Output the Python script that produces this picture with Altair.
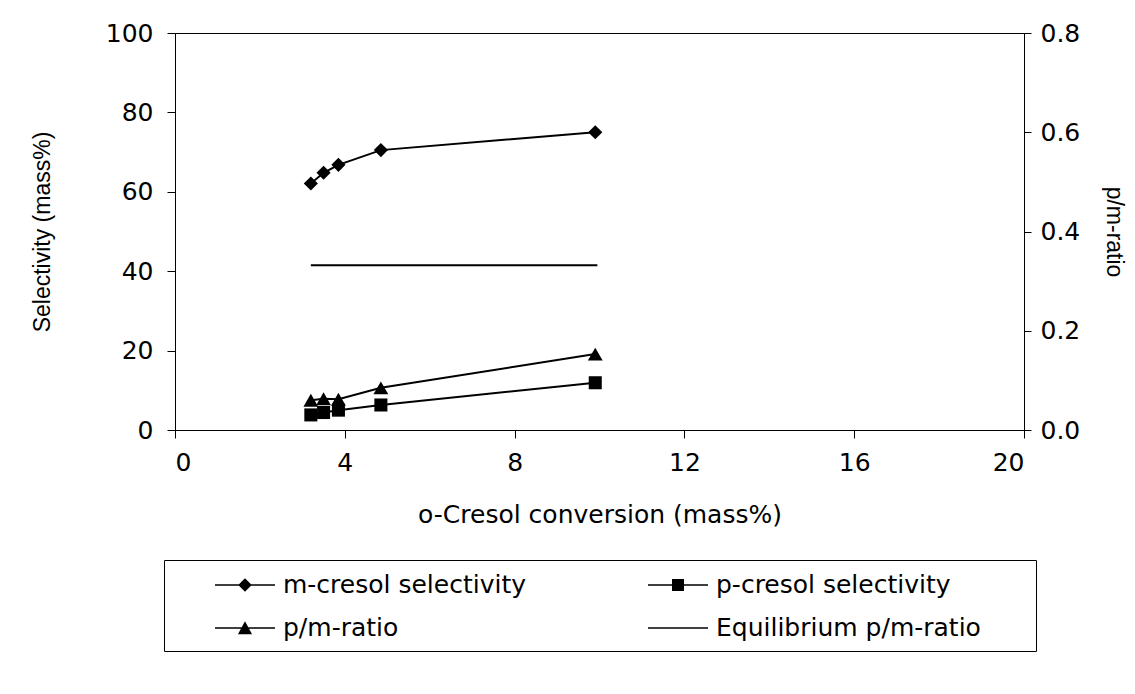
import altair as alt
import pandas as pd

# ---- data ----
conversion = [3.2, 3.5, 3.85, 4.85, 9.9]
m_cresol = [62.1, 64.8, 66.8, 70.5, 75.0]
p_cresol = [3.8, 4.4, 5.0, 6.3, 11.9]
pm_ratio = [0.060, 0.063, 0.062, 0.085, 0.153]
eq_conversion = [3.2, 9.95]
eq_ratio = [0.332, 0.332]
series = ["m-cresol selectivity", "p-cresol selectivity", "p/m-ratio", "Equilibrium p/m-ratio"]
# legend lays entries out column by column
legend_order = [series[0], series[2], series[1], series[3]]
x_ticks = [0, 4, 8, 12, 16, 20]
left_ticks = [0, 20, 40, 60, 80, 100]
right_ticks = [0.0, 0.2, 0.4, 0.6, 0.8]

FONT = "DejaVu Sans"
FS = 25
VFONT = "Liberation Sans"
VFS = 23

sel_df = pd.DataFrame({
    "x": conversion + conversion,
    "y": m_cresol + p_cresol,
    "series": [series[0]] * len(conversion) + [series[1]] * len(conversion),
})
ratio_df = pd.DataFrame({"x": conversion, "y": pm_ratio, "series": series[2]})
eq_df = pd.DataFrame({"x": eq_conversion, "y": eq_ratio, "series": series[3]})

X = alt.X("x:Q", scale=alt.Scale(domain=[0, 20], nice=False),
          axis=alt.Axis(values=x_ticks, title="o-Cresol conversion (mass%)", tickSize=8,
                        labelPadding=12, titlePadding=27, format="d"))
YL = alt.Y("y:Q", scale=alt.Scale(domain=[0, 100], nice=False),
           axis=alt.Axis(orient="left", values=left_ticks, title="Selectivity (mass%)",
                         tickSize=8, labelPadding=14, titlePadding=51,
                         titleFont=VFONT, titleFontSize=VFS))
YR = alt.Y("y:Q", scale=alt.Scale(domain=[0, 0.8], nice=False),
           axis=alt.Axis(orient="right", values=right_ticks, title="p/m-ratio", format=".1f",
                         tickSize=7, labelPadding=9, titlePadding=22,
                         titleFont=VFONT, titleFontSize=VFS))

# legend symbols: thin filled bar (line) + marker, drawn as custom paths
L0, L1, C, T = 1.733, 5.733, 3.733, 0.055
line_part = f"M{L0},{-T}L{L1},{-T}L{L1},{T}L{L0},{T}Z"
path_by_series = {
    series[0]: line_part + f"M{C},-0.45L{C+0.45},0L{C},0.45L{C-0.45},0Z",
    series[1]: line_part + f"M{C-0.4},-0.4L{C+0.4},-0.4L{C+0.4},0.4L{C-0.4},0.4Z",
    series[2]: line_part + f"M{C},-0.45L{C+0.47},0.42L{C-0.47},0.42Z",
    series[3]: line_part,
}
legend_paths = [path_by_series[s] for s in legend_order]
PAD = "\u00a0" + "\u2800" * 2
label_expr = f"datum.label == '{series[3]}' ? datum.label + '{PAD}' : datum.label"

sel_lines = alt.Chart(sel_df).mark_line(color="black", strokeWidth=2).encode(
    x=X, y=YL, detail="series:N")
m_pts = alt.Chart(sel_df).transform_filter(alt.datum.series == series[0]).mark_point(
    shape="diamond", filled=True, color="black", size=200, opacity=1).encode(x=X, y=YL)
p_pts = alt.Chart(sel_df).transform_filter(alt.datum.series == series[1]).mark_point(
    shape="square", filled=True, color="black", size=170, opacity=1).encode(x=X, y=YL)
legend_layer = alt.Chart(sel_df).transform_filter("false").mark_point(
    filled=True, color="black", opacity=1).encode(
    shape=alt.Shape("series:N", scale=alt.Scale(domain=legend_order, range=legend_paths),
                    legend=alt.Legend(title=None, orient="none", legendX=-11, legendY=527,
                                      columns=2, columnPadding=80, rowPadding=15,
                                      symbolSize=900, symbolStrokeWidth=0,
                                      symbolFillColor="black",
                                      labelOffset=79, labelFont=FONT, labelFontSize=FS,
                                      labelColor="black", labelLimit=0,
                                      labelExpr=label_expr,
                                      strokeColor="black", padding=10)))

left = alt.layer(sel_lines, m_pts, p_pts, legend_layer)

ratio_line = alt.Chart(ratio_df).mark_line(color="black", strokeWidth=2).encode(
    x=X, y=YR)
ratio_pts = alt.Chart(ratio_df).mark_point(
    shape="triangle-up", filled=True, color="black", size=220, opacity=1).encode(x=X, y=YR)
eq_line = alt.Chart(eq_df).mark_line(color="black", strokeWidth=2).encode(x=X, y=YR)
right = alt.layer(ratio_line, ratio_pts, eq_line)

chart = alt.layer(left, right).resolve_scale(y="independent").properties(
    width=849, height=397,
    autosize=alt.AutoSizeParams(type="none"),
    padding={"left": 167, "top": 25, "right": 103, "bottom": 256},
    background="white",
).configure_view(stroke="black", strokeWidth=1).configure_axis(
    grid=False, domainColor="black", tickColor="black", labelColor="black", titleColor="black",
    labelFont=FONT, titleFont=FONT, labelFontSize=FS, titleFontSize=FS, titleFontWeight="normal",
    domainWidth=1, tickWidth=1,
)

chart.save("out.html", embed_options={"renderer": "svg", "actions": False})
